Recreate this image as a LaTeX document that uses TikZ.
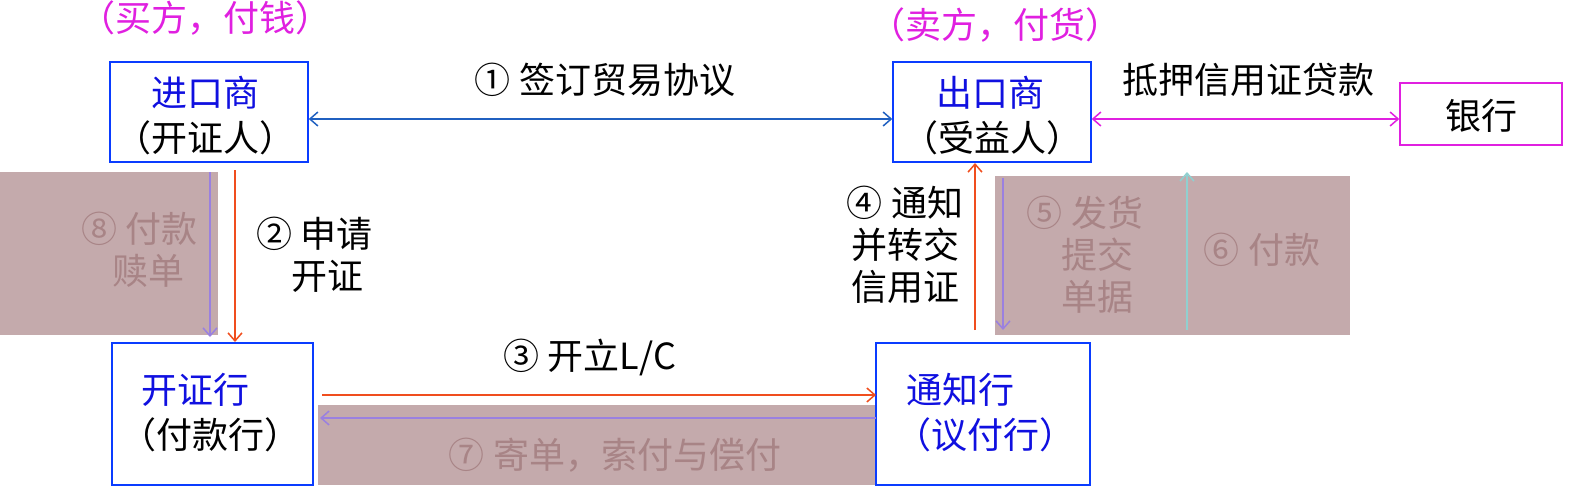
\documentclass[tikz,border=0pt]{standalone}
\usepackage{fontspec}
\setmainfont{Noto Sans CJK SC}
\usetikzlibrary{arrows.meta}
\definecolor{shbg}{HTML}{C4AAAC}
\definecolor{shtext}{HTML}{A88486}
\definecolor{bblue}{HTML}{0A3CFF}
\definecolor{tblue}{HTML}{1010E0}
\definecolor{mag}{HTML}{E020E0}
\definecolor{org}{HTML}{F04E1E}
\definecolor{pur}{HTML}{9A80E0}
\definecolor{teal2}{HTML}{90D0D0}
\definecolor{lblue}{HTML}{2060C0}
\tikzset{
 boxn/.style={draw=bblue,line width=1.5pt,minimum width=198pt,minimum height=100pt},
 txt/.style={font=\fontsize{36}{42}\selectfont,align=center,inner sep=0pt},
 arr/.style={line width=1.5pt,-{Straight Barb[length=8pt,width=14pt]}},
 darr/.style={line width=1.5pt,{Straight Barb[length=8pt,width=14pt]}-{Straight Barb[length=8pt,width=14pt]}}
}
\begin{document}
\begin{tikzpicture}[x=1pt,y=-1pt]
\useasboundingbox (0,0) rectangle (1577,490);
% shaded areas
\fill[shbg] (0,172) rectangle (218,335);
\fill[shbg] (318,405) rectangle (876,485);
\fill[shbg] (995,176) rectangle (1350,335);
% boxes
\node[boxn] (imp) at (209,112) {};
\node[boxn] (exp) at (992,112) {};
\node[draw=mag,line width=1.5pt,minimum width=162pt,minimum height=62pt] (bank) at (1481,114) {};
\node[txt] at (1481,116) {银行};
\node[draw=bblue,line width=1.5pt,minimum width=201pt,minimum height=142pt] (iss) at (212.5,414) {};
\node[draw=bblue,line width=1.5pt,minimum width=214pt,minimum height=142pt] (adv) at (983,414) {};
% texts
\node[txt,text=mag] at (205,18) {（买方，付钱）};
\node[txt,text=mag] at (995,25) {（卖方，付货）};
\node[txt,text=tblue] at (205,93) {进口商};
\node[txt] at (205,138) {（开证人）};
\node[txt,text=tblue] at (990,93) {出口商};
\node[txt] at (992,138) {（受益人）};
\node[txt,text=tblue] at (195,390) {开证行};
\node[txt] at (210,435) {（付款行）};
\node[txt,text=tblue] at (960,390) {通知行};
\node[txt,text=tblue] at (985,435) {（议付行）};
% connectors
\draw[darr,draw=lblue] (imp.east |- 0,119) -- (exp.west |- 0,119);
\node[txt] at (605,80) {① 签订贸易协议};
\draw[darr,draw=mag] (exp.east |- 0,119) -- (bank.west |- 0,119);
\node[txt] at (1248,80) {抵押信用证贷款};
\draw[arr,draw=pur] (210,172) -- (210,337);
\draw[arr,draw=org] (235,170) -- (235,342);
\node[txt,text=shtext] at (140,250) {⑧ 付款\\\ \ 赎单};
\node[txt] at (315,255) {② 申请\\\ \ \ 开证};
\draw[arr,draw=org] (322,395) -- (876,395);
\node[txt] at (590,357) {③ 开立L/C};
\draw[arr,draw=pur] (876,418) -- (320,418);
\node[txt,text=shtext] at (615,455) {⑦ 寄单，索付与偿付};
\draw[arr,draw=org] (975,330) -- (975,163);
\node[txt] at (905,245) {④ 通知\\并转交\\信用证};
\draw[arr,draw=pur] (1003,178) -- (1003,330);
\node[txt,text=shtext] at (1085,255) {⑤ 发货\\\ \ \ 提交\\\ \ \ 单据};
\draw[arr,draw=teal2] (1187,330) -- (1187,172);
\node[txt,text=shtext] at (1262,250) {⑥ 付款};
\end{tikzpicture}
\end{document}
